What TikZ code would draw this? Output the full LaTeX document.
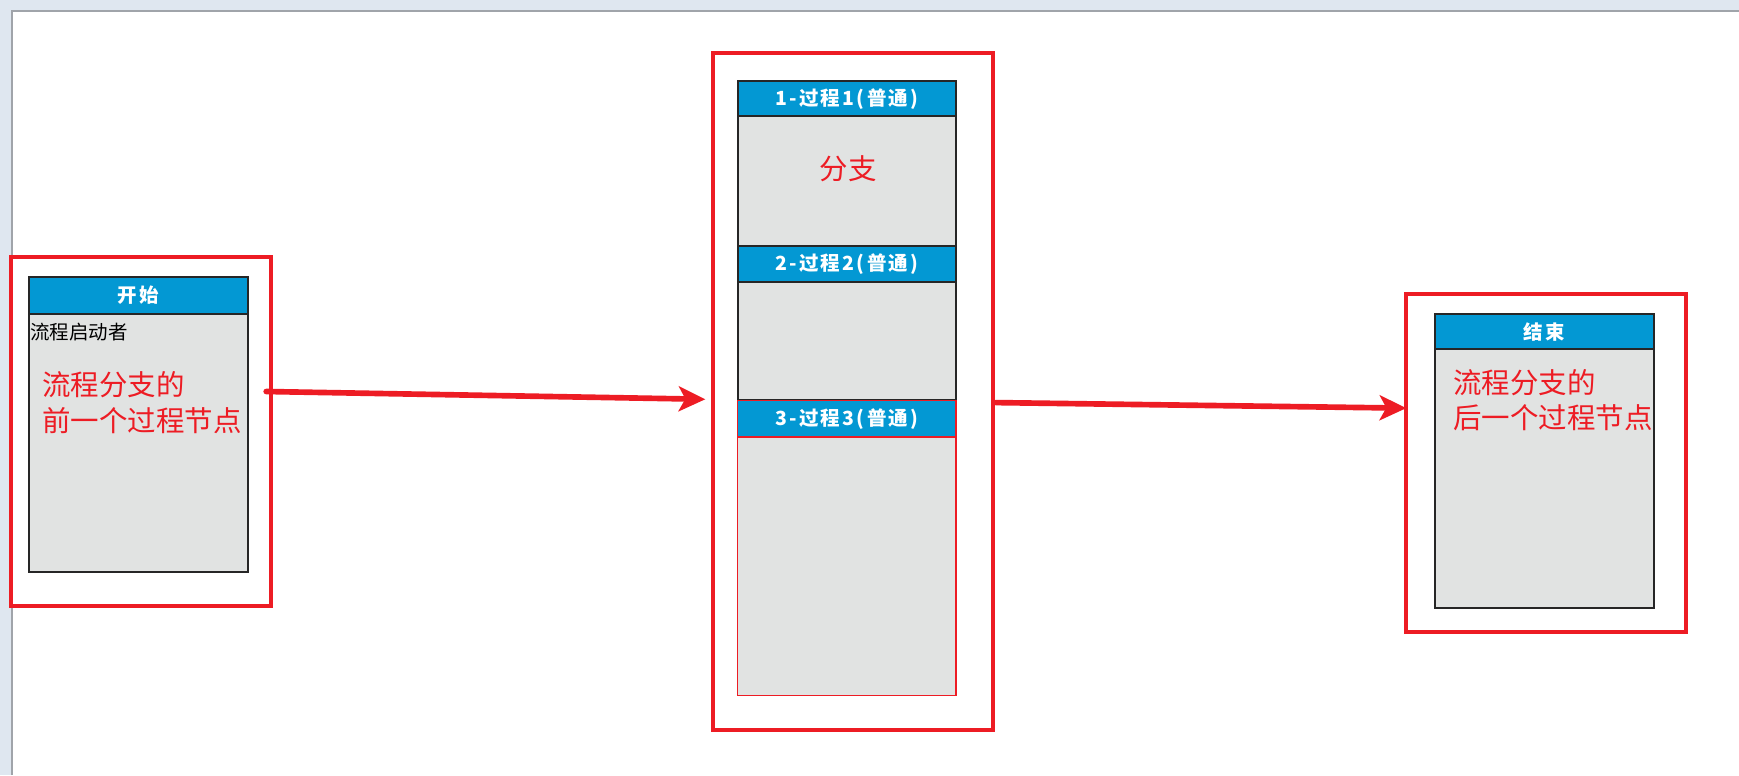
\documentclass[tikz,border=0pt]{standalone}
\usepackage{fontspec}
\newfontfamily\cjk{Noto Sans CJK SC}
\newfontfamily\cjkhead[LetterSpace=12]{Noto Sans CJK SC}
\usetikzlibrary{arrows.meta,positioning}
\definecolor{flowred}{RGB}{237,28,36}
\definecolor{headblue}{RGB}{3,152,211}
\definecolor{bodygray}{RGB}{225,227,226}
\definecolor{panelbg}{RGB}{223,231,240}
\definecolor{canvasline}{RGB}{160,164,170}

\begin{document}
\begin{tikzpicture}[x=0.2mm, y=-0.2mm,
    redframe/.style={draw=flowred, line width=2pt, inner sep=0pt, outer sep=0pt, anchor=north west},
    head/.style={draw=black!85, fill=headblue, line width=1pt, inner sep=0pt, outer sep=0pt, anchor=north west,
        text=white, font=\cjkhead\bfseries\fontsize{10}{12}\selectfont, minimum width=39.4mm, minimum height=6.4mm},
    body/.style={draw=black!85, fill=bodygray, line width=1pt, inner sep=0pt, outer sep=0pt, anchor=north west,
        minimum width=39.4mm},
    note/.style={text=flowred, font=\cjk\fontsize{14.6}{18.2}\selectfont, align=left, inner sep=0pt},
    flow/.style={draw=flowred, line width=2.9pt, line cap=round, -{Stealth[length=4.8mm,width=4.5mm,inset=1.2mm]}}]
    \useasboundingbox (0,0) rectangle (1568,699);

    % Canvas
    \fill[panelbg] (0,0) rectangle (1568,699);
    \fill[white] (11,10) rectangle (1568,699);
    \draw[canvasline, line width=0.8pt] (11,699) -- (11,10) -- (1568,10);

    % Previous process node
    \node[redframe, minimum width=46.8mm, minimum height=62.8mm] (startframe) at (10,232) {};
    \node[head, minimum width=39.6mm, minimum height=6.6mm] (starthead) at (26,250) {开始};
    \node[body, minimum width=39.6mm, minimum height=46.6mm, below=0pt of starthead] (startbody) {};
    \node[anchor=west, inner sep=0pt, font=\cjk\fontsize{10}{12}\selectfont] (starter)
        at ([xshift=0.2mm, yshift=-3.2mm]startbody.north west) {流程启动者};
    \node[note, anchor=west] (prevnote) at ([xshift=2.4mm, yshift=-16mm]startbody.north west) {流程分支的\\前一个过程节点};

    % Branch
    \node[redframe, minimum width=50.4mm, minimum height=122mm] (midframe) at (643,48) {};
    \node[head] (head1) at (665,73) {1-过程1(普通)};
    \node[body, minimum height=23.4mm, below=0pt of head1] (body1) {};
    \node[head, below=0pt of body1] (head2) {2-过程2(普通)};
    \node[body, minimum height=21.4mm, below=0pt of head2] (body2) {};
    \node[head, draw=flowred, line width=0.6pt, minimum height=6.6mm, below=0pt of body2] (head3) {3-过程3(普通)};
    \node[body, draw=flowred, line width=0.6pt, minimum height=46.6mm, below=0pt of head3] (body3) {};
    \node[note] (branch) at (765,152) {分支};

    % Next process node
    \node[redframe, minimum width=50.4mm, minimum height=61mm] (endframe) at (1268,265) {};
    \node[head] (endhead) at (1294,283) {结束};
    \node[body, minimum height=46.6mm, below=0pt of endhead] (endbody) {};
    \node[note, anchor=west] (nextnote) at ([xshift=3.2mm, yshift=-9.2mm]endbody.north west) {流程分支的\\后一个过程节点};

    % Arrows
    \coordinate (fromstart) at (240,353);
    \coordinate (tomid) at (636,360);
    \coordinate (frommid) at (898,363);
    \coordinate (toend) at (1268,368);
    \draw[flow] (fromstart) -- (tomid);
    \draw[flow] (frommid) -- (toend);
\end{tikzpicture}
\end{document}
